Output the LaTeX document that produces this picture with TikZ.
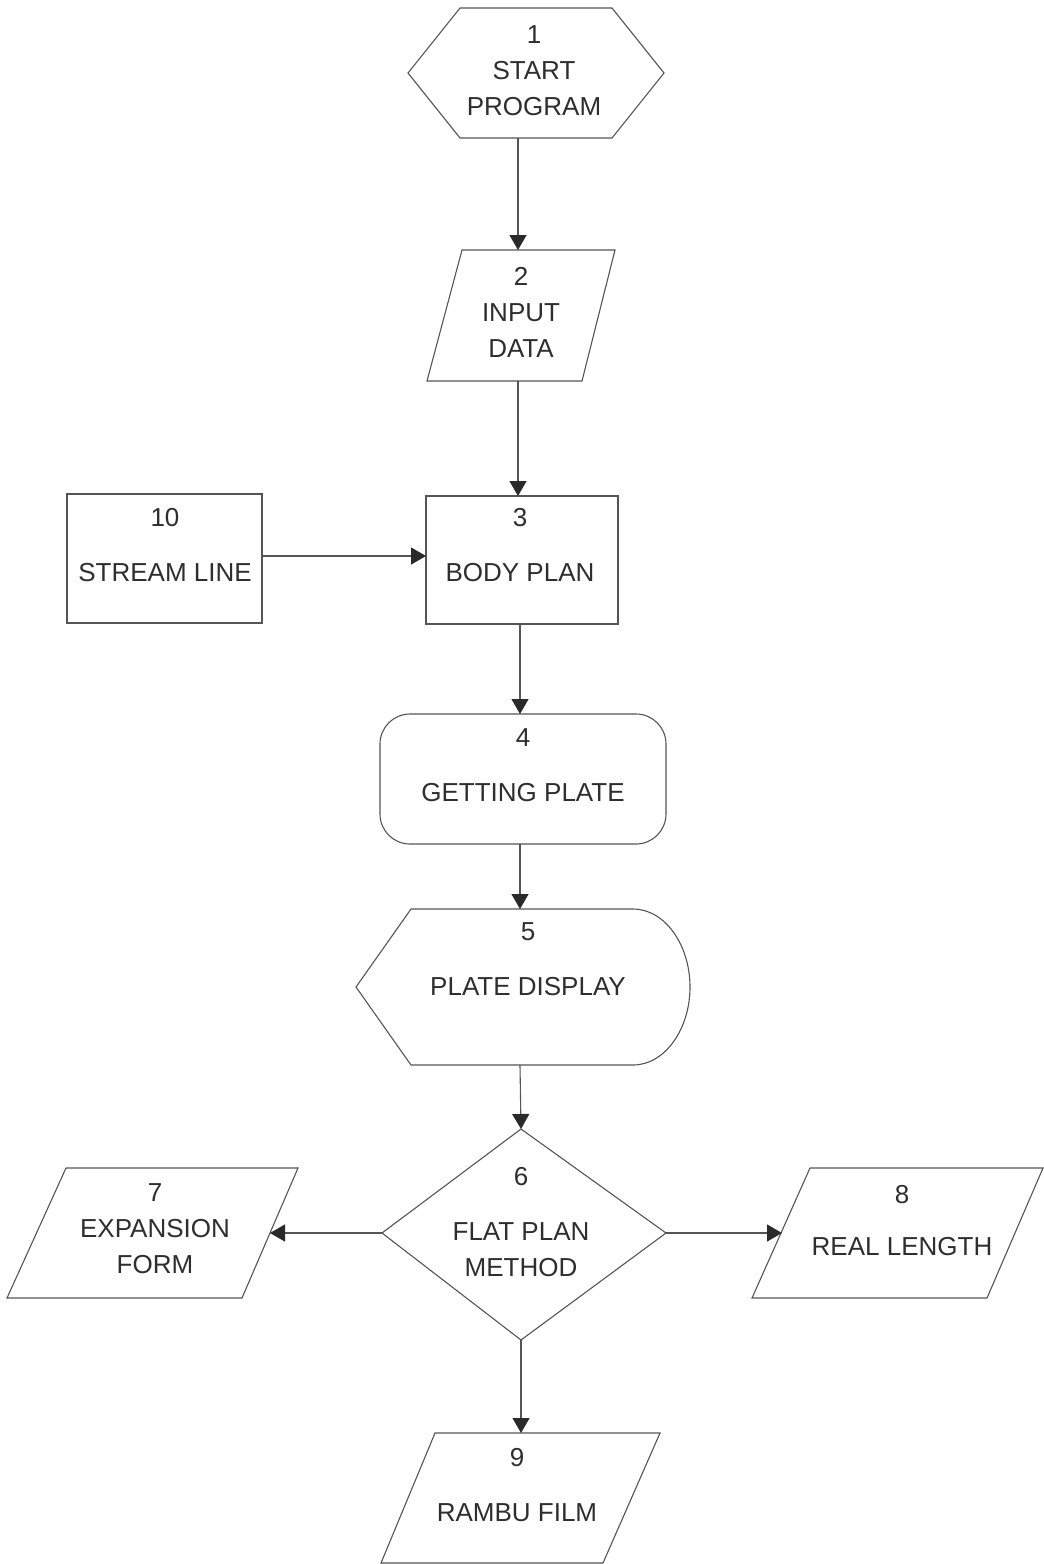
\documentclass[tikz,border=0pt]{standalone}
\usepackage{fontspec}
\setmainfont{Liberation Sans}
\usetikzlibrary{arrows.meta}
\definecolor{linec}{HTML}{555555}
\definecolor{textc}{HTML}{2E2E2E}
\definecolor{headc}{HTML}{2A2A2A}
\begin{document}
\begin{tikzpicture}[x=0.5pt,y=-0.5pt,
  outline/.style={draw=linec,line width=0.55pt},
  label/.style={text=textc,font=\fontsize{13}{18}\selectfont,align=center,inner sep=0pt},
  conn/.style={draw=linec,line width=0.55pt,-{Triangle[length=7.5pt,width=8.5pt,color=headc]}}]
\useasboundingbox (0,0) rectangle (1044,1564);
\fill[white] (0,0) rectangle (1044,1564);

% 1 hexagon
\draw[outline] (460,8) -- (612,8) -- (664,73) -- (612,138) -- (460,138) -- (408,73) -- cycle;
\node[label] (n1) at (534,71) {1\\START\\PROGRAM};
\coordinate (n1s) at (518,138);

% 2 parallelogram
\draw[outline] (462,250) -- (615,250) -- (582,381) -- (427,381) -- cycle;
\node[label] (n2) at (521,312) {2\\INPUT\\DATA};
\coordinate (n2n) at (518,250);
\coordinate (n2s) at (518,381);

% 3 rectangle
\draw[outline] (426,496) rectangle (618,624);
\node[label] (n3) at (520,545) {3\\[9.5pt]BODY PLAN};
\coordinate (n3n) at (518,496);
\coordinate (n3w) at (426,556);
\coordinate (n3s) at (520,624);

% 10 rectangle
\draw[outline] (67,494) rectangle (262,623);
\node[label] (n10) at (165,545) {10\\[9.5pt]STREAM LINE};
\coordinate (n10e) at (262,556);

% 4 rounded rectangle
\draw[outline,rounded corners=15pt] (380,714) rectangle (666,844);
\node[label] (n4) at (523,765) {4\\[9.5pt]GETTING PLATE};
\coordinate (n4n) at (520,714);
\coordinate (n4s) at (520,844);

% 5 display
\draw[outline] (411,909) -- (633,909)
  .. controls (665,909) and (690,945) .. (690,987)
  .. controls (690,1029) and (665,1065) .. (633,1065)
  -- (411,1065) -- (356,987) -- cycle;
\node[label] (n5) at (528,959) {5\\[9.5pt]PLATE DISPLAY};
\coordinate (n5n) at (520,909);
\coordinate (n5s) at (520,1065);

% 6 diamond
\draw[outline] (521,1129) -- (666,1233) -- (521,1340) -- (382,1233) -- cycle;
\node[label] (n6) at (521,1222) {6\\[9.5pt]FLAT PLAN\\METHOD};
\coordinate (n6n) at (521,1129);
\coordinate (n6w) at (382,1233);
\coordinate (n6e) at (666,1233);
\coordinate (n6s) at (521,1340);

% 7 parallelogram
\draw[outline] (66,1168) -- (298,1168) -- (242,1298) -- (7,1298) -- cycle;
\node[label] (n7) at (155,1229) {7\\EXPANSION\\FORM};
\coordinate (n7e) at (270,1233);

% 8 parallelogram
\draw[outline] (810,1168) -- (1043,1168) -- (987,1298) -- (752,1298) -- cycle;
\node[label] (n8) at (902,1221) {8\\[8pt]REAL LENGTH};
\coordinate (n8w) at (782,1233);

% 9 parallelogram
\draw[outline] (435,1433) -- (660,1433) -- (603,1563) -- (381,1563) -- cycle;
\node[label] (n9) at (517,1485) {9\\[9.5pt]RAMBU FILM};
\coordinate (n9n) at (521,1433);

% connectors
\draw[conn] (n1s) -- (n2n);
\draw[conn] (n2s) -- (n3n);
\draw[conn] (n10e) -- (n3w);
\draw[conn] (n3s) -- (n4n);
\draw[conn] (n4s) -- (n5n);
\draw[conn] (n5s) -- (n6n);
\draw[conn] (n6w) -- (n7e);
\draw[conn] (n6e) -- (n8w);
\draw[conn] (n6s) -- (n9n);
\end{tikzpicture}
\end{document}
